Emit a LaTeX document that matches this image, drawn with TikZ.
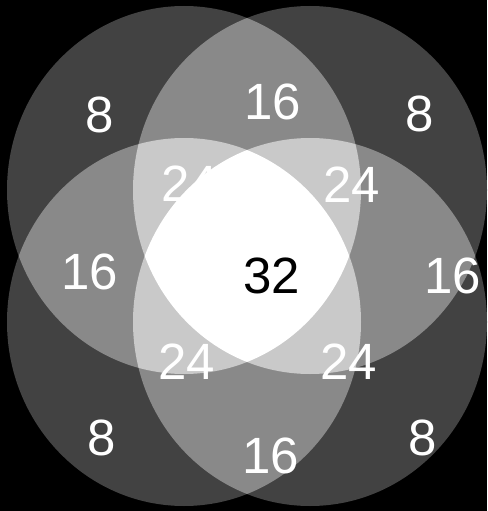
\documentclass[tikz,border=0pt]{standalone}
\usepackage{fontspec}
\setmainfont{Liberation Sans}
\definecolor{vennone}{RGB}{66,66,66}
\definecolor{venntwo}{RGB}{137,137,137}
\definecolor{vennthree}{RGB}{201,201,201}

\begin{document}
\begin{tikzpicture}[x=1pt,y=-1pt,
    rad/.style={x radius=177,y radius=184},
    lbl/.style={text=white,inner sep=0pt,font=\fontsize{51}{51}\selectfont}]
        \fill[black] (0,0) rectangle (487,511);
        \coordinate (ul) at (184,190); \coordinate (ur) at (310,190);
        \coordinate (ll) at (184,322); \coordinate (lr) at (310,322);
        % one set
        \foreach \a in {ul,ur,ll,lr} \fill[vennone] (\a) ellipse [rad];
        % two sets
        \foreach \a/\b in {ul/ur,ul/ll,ul/lr,ur/ll,ur/lr,ll/lr}{
          \begin{scope} \clip (\a) ellipse [rad]; \fill[venntwo] (\b) ellipse [rad]; \end{scope}}
        % three sets
        \foreach \a/\b/\c in {ul/ur/ll,ul/ur/lr,ul/ll/lr,ur/ll/lr}{
          \begin{scope} \clip (\a) ellipse [rad]; \clip (\b) ellipse [rad];
            \fill[vennthree] (\c) ellipse [rad]; \end{scope}}
        % all four
        \begin{scope} \clip (ul) ellipse [rad]; \clip (ur) ellipse [rad]; \clip (ll) ellipse [rad];
          \fill[white] (lr) ellipse [rad]; \end{scope}
        \node[lbl] (oneul) at (100,115) {8}; \node[lbl] (twotop) at (273,102) {16};
        \node[lbl] (oneur) at (420,114) {8};
        \node[lbl] (threeul) at (190,184) {24}; \node[lbl] (threeur) at (352,185) {24};
        \node[lbl] (twoleft) at (90,272) {16}; \node[lbl,text=black] (four) at (272,276) {32};
        \node[lbl] (tworight) at (453,276) {16};
        \node[lbl] (threell) at (187,362) {24}; \node[lbl] (threelr) at (349,362) {24};
        \node[lbl] (onell) at (102,438) {8}; \node[lbl] (twobottom) at (271,456) {16};
        \node[lbl] (onelr) at (423,438) {8};
      \end{tikzpicture}
\end{document}
